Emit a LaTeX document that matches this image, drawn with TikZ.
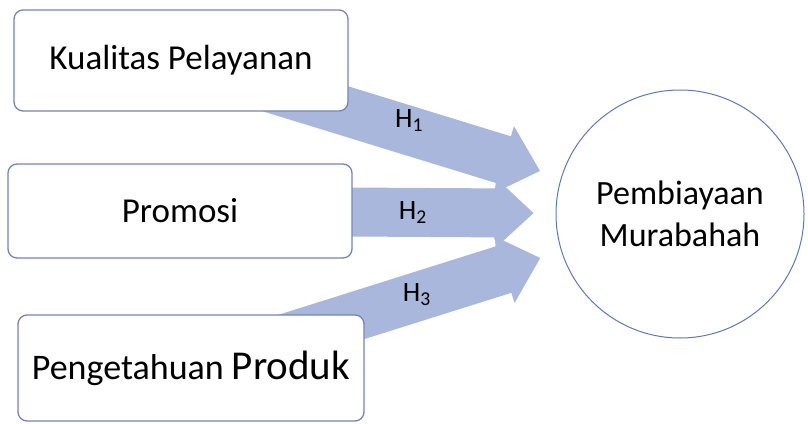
\documentclass[tikz,border=0pt]{standalone}
\usepackage{fontspec}
\setmainfont{Carlito}
\usepackage{tikz}
\usetikzlibrary{arrows.meta,backgrounds}
\definecolor{boxline}{HTML}{7584B5}
\definecolor{flowfill}{HTML}{A9B7DC}
\definecolor{ringline}{HTML}{6079AC}

\begin{document}
\begin{tikzpicture}[x=1pt,y=-1pt,
    varbox/.style={draw=boxline,line width=1.3pt,rounded corners=9pt,fill=white,font=\fontsize{35}{42}\selectfont},
    flow/.style={draw=flowfill,line width=49pt,shorten >=22pt,-{Triangle[length=38pt,width=70pt,line width=2pt]}},
    hlab/.style={font=\fontsize{28}{32}\selectfont}]
    \useasboundingbox (0,0) rectangle (808,423);
    \node[varbox,minimum width=334pt,minimum height=101pt] (kp) at (181,60.5) {Kualitas Pelayanan};
    \node[varbox,minimum width=344pt,minimum height=94pt] (pr) at (180,211) {Promosi};
    \node[varbox,minimum width=346pt,minimum height=106pt,font=\fontsize{36}{42}\selectfont] (pp) at (191,368)
        {Pengetahuan {\fontsize{41}{44}\selectfont Produk}};
    \node[draw=ringline,line width=1pt,circle,minimum size=248pt,align=center,
          font=\fontsize{34}{42}\selectfont] (pm) at (680,214) {Pembiayaan\\Murabahah};
    \begin{scope}[on background layer]
        \draw[flow] (kp.center) -- (pm) node[hlab,pos=0.6,yshift=10pt]{H\textsubscript{1}};
        \draw[flow] (pr.center) -- (pm) node[hlab,pos=0.62]{H\textsubscript{2}};
        \draw[flow] (pp.center) -- (pm) node[hlab,pos=0.61,yshift=2pt]{H\textsubscript{3}};
    \end{scope}
\end{tikzpicture}
\end{document}
